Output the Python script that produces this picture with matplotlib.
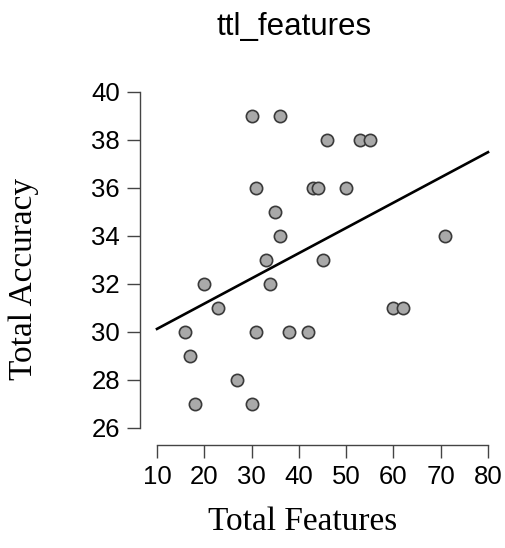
import matplotlib.pyplot as plt
import numpy as np

# Data
total_features = [16, 17, 18, 20, 23, 27, 30, 30, 31, 31, 33, 34, 35, 36, 36,
                  38, 42, 43, 44, 45, 46, 50, 53, 55, 60, 62, 71]
total_accuracy = [30, 29, 27, 32, 31, 28, 39, 27, 36, 30, 33, 32, 35, 34, 39,
                  30, 30, 36, 36, 33, 38, 36, 38, 38, 31, 31, 34]
x_ticks = [10, 20, 30, 40, 50, 60, 70, 80]
y_ticks = [26, 28, 30, 32, 34, 36, 38, 40]

# Styles
W, H = 505, 548
pointFill = '#a9a9a9'
pointEdge = '#3a3a3a'
axisColour = '#444444'
font_tick = 18.5
font_label = 24
font_title = 22.5
sans = ['Liberation Sans', 'DejaVu Sans']
serif = ['Liberation Serif', 'DejaVu Serif']

fig = plt.figure(figsize=(W / 100, H / 100), dpi=100)
# axes box in pixels: x 10 -> 157, 80 -> 488 ; y 40 -> 92, 26 -> 428
ax = fig.add_axes([157 / W, (H - 428) / H, (488 - 157) / W, (428 - 92) / H])
ax.set_xlim(x_ticks[0], x_ticks[-1])
ax.set_ylim(y_ticks[0], y_ticks[-1])

# regression line over the axis range
slope, intercept = np.polyfit(total_features, total_accuracy, 1)
xs = np.array([x_ticks[0], x_ticks[-1]])
ax.plot(xs, intercept + slope * xs, color='black', linewidth=1.9, zorder=2, clip_on=False)

ax.scatter(total_features, total_accuracy, s=78, facecolor=pointFill,
           edgecolor=pointEdge, linewidth=1.2, zorder=3, clip_on=False)

# detached R/JASP-style axes
for side in ['top', 'right']:
    ax.spines[side].set_visible(False)
ax.spines['left'].set_position(('outward', 12.2))
ax.spines['bottom'].set_position(('outward', 12.2))
ax.spines['left'].set_bounds(y_ticks[0], y_ticks[-1])
ax.spines['bottom'].set_bounds(x_ticks[0], x_ticks[-1])
for side in ['left', 'bottom']:
    ax.spines[side].set_color(axisColour)
    ax.spines[side].set_linewidth(1.0)

ax.set_xticks(x_ticks)
ax.set_yticks(y_ticks)
ax.tick_params(axis='both', direction='out', length=9.5, width=1.0, color=axisColour,
               labelsize=font_tick, pad=5)
for label in ax.get_xticklabels() + ax.get_yticklabels():
    label.set_family(sans)

fig.text(294 / W, 1 - 27 / H, 'ttl_features', ha='center', va='center',
         fontsize=font_title, family=sans)
fig.text(303 / W, 1 - 522 / H, 'Total Features', ha='center', va='center',
         fontsize=font_label, family=serif)
fig.text(24 / W, 1 - 279 / H, 'Total Accuracy', ha='center', va='center',
         rotation=90, fontsize=font_label, family=serif)

plt.savefig('out.png', dpi=100)
